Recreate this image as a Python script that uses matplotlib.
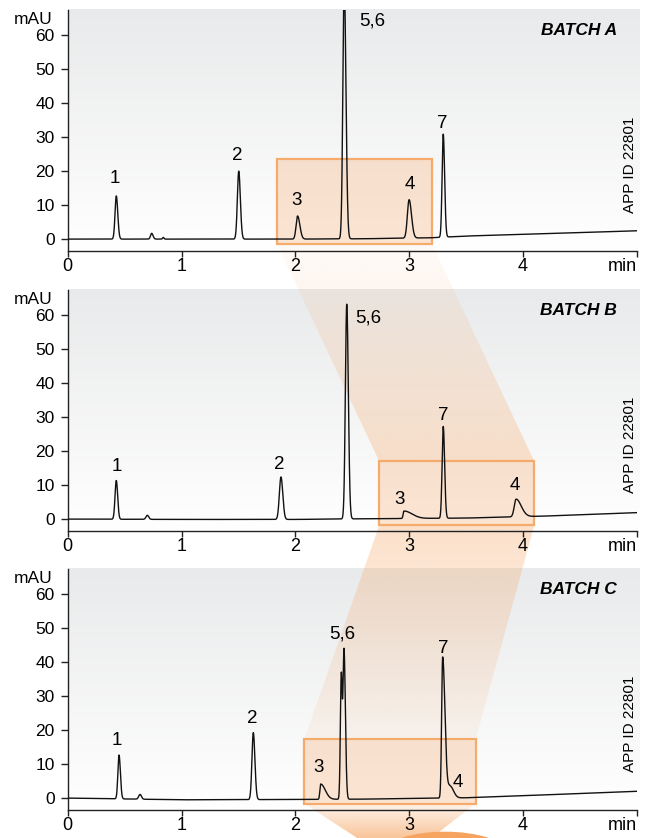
import numpy as np
import matplotlib
matplotlib.use("Agg")
import matplotlib.pyplot as plt
from matplotlib.patches import Rectangle, Polygon, Ellipse

plt.rcParams["font.family"] = ["Liberation Sans", "DejaVu Sans"]

W, H = 647, 838

# ── dados: linha de base (min, mAU) ─────────────────────────────────────
BASE_T_A = [0.0, 2.0, 2.6, 3.2, 3.5, 4.0, 4.5, 5.0]
BASE_Y_A = [0.0, 0.0, 0.1, 0.4, 0.9, 1.4, 1.9, 2.45]
BASE_T_B = [0.0, 1.0, 2.0, 2.6, 3.5, 4.2, 5.0]
BASE_Y_B = [0.0, -0.1, -0.1, 0.1, 0.3, 0.9, 1.9]
BASE_T_C = [0.0, 1.0, 2.0, 2.6, 3.5, 4.0, 5.0]
BASE_Y_C = [0.0, -0.5, -0.4, -0.3, 0.1, 0.7, 2.0]

# ── dados: picos (tempo, altura, sigma esq., sigma dir.) ────────────────
RT_A = [0.427, 0.738, 0.840, 1.503, 2.020, 2.430, 3.000, 3.300]
HT_A = [12.7, 1.7, 0.5, 20.0, 6.8, 75.0, 11.3, 30.3]
SL_A = [0.011, 0.010, 0.006, 0.012, 0.013, 0.012, 0.015, 0.010]
SR_A = [0.013, 0.012, 0.006, 0.014, 0.020, 0.015, 0.021, 0.012]

RT_B = [0.427, 0.700, 1.874, 2.452, 2.955, 3.300, 3.940]
HT_B = [11.4, 1.2, 12.5, 63.2, 2.2, 27.0, 5.2]
SL_B = [0.011, 0.012, 0.014, 0.012, 0.007, 0.010, 0.016]
SR_B = [0.012, 0.012, 0.016, 0.014, 0.070, 0.012, 0.045]

RT_C = [0.451, 0.636, 1.631, 2.223, 2.404, 2.428, 3.295, 3.360]
HT_C = [12.9, 1.4, 19.7, 4.5, 36.0, 44.0, 41.5, 3.5]
SL_C = [0.010, 0.012, 0.012, 0.007, 0.008, 0.009, 0.009, 0.020]
SR_C = [0.012, 0.012, 0.014, 0.040, 0.008, 0.012, 0.020, 0.030]

# ── rótulos dos picos ───────────────────────────────────────────────────
LAB_A = ["1", "2", "3", "5,6", "4", "7"]
LAB_X_A = [0.41, 1.494, 2.012, 2.678, 3.008, 3.292]
LAB_Y_A = [16.4, 23.2, 10.0, 62.8, 14.6, 32.6]
LAB_B = ["1", "2", "5,6", "3", "7", "4"]
LAB_X_B = [0.43, 1.86, 2.642, 2.92, 3.30, 3.93]
LAB_Y_B = [14.2, 14.6, 57.9, 4.4, 29.2, 8.7]
LAB_C = ["1", "2", "3", "5,6", "7", "4"]
LAB_X_C = [0.43, 1.622, 2.208, 2.416, 3.30, 3.427]
LAB_Y_C = [15.6, 22.1, 7.8, 47.1, 42.8, 3.4]

BATCHES = ["BATCH A", "BATCH B", "BATCH C"]
# caixas de zoom (x0, x1, y0, y1) em min / mAU
BOXES = [(1.837, 3.199, -1.3, 23.7), (2.738, 4.100, -1.8, 17.0), (2.079, 3.585, -1.6, 17.3)]

XTICKS = [0, 1, 2, 3, 4, 5]
XLABELS = ["0", "1", "2", "3", "4", "min"]
YTICKS = [0, 10, 20, 30, 40, 50, 60]

ORANGE = np.array([245, 160, 90]) / 255
EDGE = "#f5ab6c"
GRAY_TOP = np.array([233, 234, 235]) / 255


def trace(t, bt, by, rt, ht, sl, sr):
    y = np.interp(t, bt, by)
    for r, h, a, b in zip(rt, ht, sl, sr):
        s = np.where(t < r, a, b)
        y = y + h * np.exp(-0.5 * ((t - r) / s) ** 2)
    return y


def grad_img(rgb_bot, rgb_top, a_bot, a_top, n=256):
    g = np.zeros((n, 1, 4))
    g[:, 0, :3] = np.linspace(rgb_bot, rgb_top, n)
    g[:, 0, 3] = np.linspace(a_bot, a_top, n)
    return g


fig = plt.figure(figsize=(W / 100, H / 100), dpi=100)
fig.patch.set_facecolor("white")

# eixo de fundo em pixels
bg = fig.add_axes([0, 0, 1, 1], zorder=0)
bg.axis("off")

L_PX, R_PX = 67.7, 636.7
PANELS = [(10, 251), (290, 531), (569, 810)]   # topo, base (px a partir do topo)

t = np.linspace(0, 5, 6001)
data = [
    (BASE_T_A, BASE_Y_A, RT_A, HT_A, SL_A, SR_A, LAB_A, LAB_X_A, LAB_Y_A),
    (BASE_T_B, BASE_Y_B, RT_B, HT_B, SL_B, SR_B, LAB_B, LAB_X_B, LAB_Y_B),
    (BASE_T_C, BASE_Y_C, RT_C, HT_C, SL_C, SR_C, LAB_C, LAB_X_C, LAB_Y_C),
]

axes = []
for i, (top, bot) in enumerate(PANELS):
    ax = fig.add_axes([L_PX / W, (H - bot) / H, (R_PX - L_PX) / W, (bot - top) / H], zorder=2)
    ax.set_facecolor("none")
    ax.set_xlim(0, 5)
    ax.set_ylim(-3.5, 67.4)
    for s in ["top", "right"]:
        ax.spines[s].set_visible(False)
    for s in ["left", "bottom"]:
        ax.spines[s].set_linewidth(1.0)
        ax.spines[s].set_color("#222222")
    ax.set_xticks(XTICKS)
    ax.set_xticklabels(XLABELS)
    ax.get_xticklabels()[-1].set_horizontalalignment("right")
    ax.set_yticks(YTICKS)
    ax.tick_params(axis="x", length=4.5, width=1, pad=0.5, labelsize=13, color="#222222")
    ax.tick_params(axis="y", length=5.0, width=1, pad=4.5, labelsize=12.5, color="#222222")

    bt, by, rt, ht, sl, sr, lab, lx, ly = data[i]
    ax.plot(t, trace(t, bt, by, rt, ht, sl, sr), color="#111111", lw=1.0, zorder=3)
    for s_, x_, y_ in zip(lab, lx, ly):
        ax.text(x_, y_, s_, ha="center", va="baseline", fontsize=13.5, zorder=4)

    x0, x1, y0, y1 = BOXES[i]
    ax.add_patch(Rectangle((x0, y0), x1 - x0, y1 - y0, fc=tuple(ORANGE) + (0.27,),
                           ec="none", zorder=1))
    ax.add_patch(Rectangle((x0, y0), x1 - x0, y1 - y0, fc="none", ec=EDGE,
                           lw=1.6, zorder=2))

    ax.text(4.827, 60.0, BATCHES[i], ha="right", va="baseline", fontsize=12.5,
            fontweight="bold", style="italic")
    ax.text(4.94, 22.0, "APP ID 22801", rotation=90, ha="center", va="center", fontsize=11)
    ax.text(-0.129, 63.2, "mAU", ha="right", va="baseline", fontsize=12.5, clip_on=False)

    # fundo cinza em degradê
    bg.imshow(grad_img(np.ones(3), GRAY_TOP, 1.0, 1.0),
              extent=(L_PX, R_PX + 3, H - bot, H - top), origin="lower",
              aspect="auto", zorder=1, interpolation="bilinear")
    axes.append(ax)


def disp(ax, x, y):
    return ax.transData.transform((x, y))


def band(quad, a_top, a_bot):
    poly = Polygon(quad, closed=True, fc="none", ec="none")
    bg.add_patch(poly)
    xs = [p[0] for p in quad]
    ys = [p[1] for p in quad]
    im = bg.imshow(grad_img(ORANGE, ORANGE, a_bot, a_top),
                   extent=(min(xs), max(xs), min(ys), max(ys)),
                   origin="lower", aspect="auto", zorder=2, interpolation="bilinear")
    im.set_clip_path(poly)


# faixas de ligação entre as caixas
bA, bB, bC = BOXES
axA, axB, axC = axes
band([disp(axA, bA[0], bA[2]), disp(axA, bA[1], bA[2]),
      disp(axB, bB[1], bB[3]), disp(axB, bB[0], bB[3])], 0.04, 0.30)
band([disp(axB, bB[0], bB[2]), disp(axB, bB[1], bB[2]),
      disp(axC, bC[1], bC[3]), disp(axC, bC[0], bC[3])], 0.32, 0.08)
band([disp(axC, bC[0], bC[2]), disp(axC, bC[1], bC[2]),
      (403, H - 860), (391, H - 860)], 0.10, 0.95)
bg.add_patch(Ellipse((445, H - 851.7), 120, 40, fc="#f5a35e", ec="none", zorder=2))

bg.set_xlim(0, W)
bg.set_ylim(0, H)

fig.savefig("out.png", dpi=100, facecolor="white")
